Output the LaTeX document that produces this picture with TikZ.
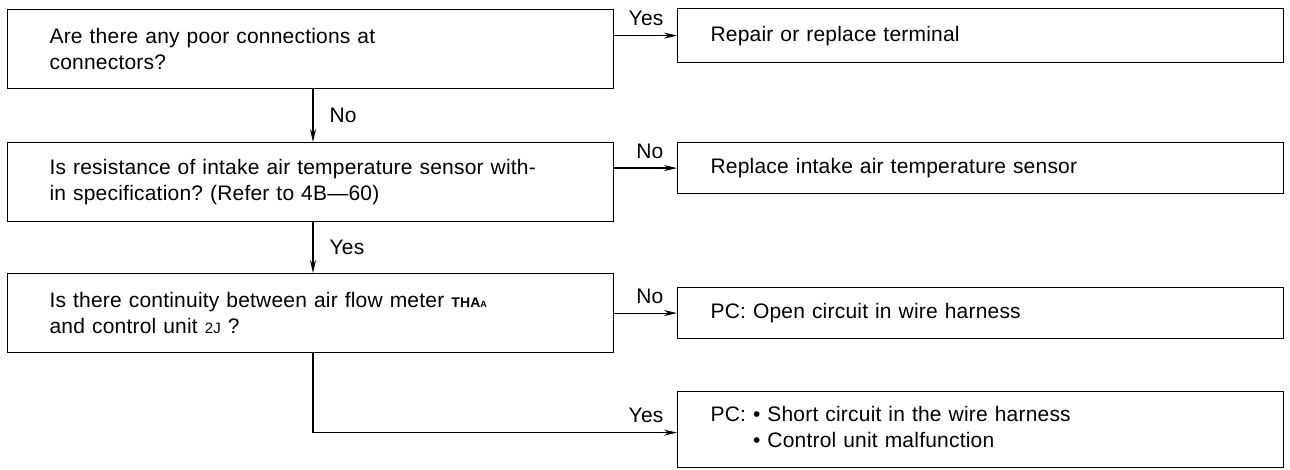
\documentclass[tikz,border=0pt]{standalone}
\usepackage{fontspec}
\setmainfont{Liberation Sans}[LetterSpace=1]
\usepackage{tikz}
\usetikzlibrary{positioning,arrows.meta}
\frenchspacing

\tikzset{
  qbox/.style={draw, line width=1.2pt, rectangle, anchor=north west, align=left,
    text width=522pt, inner xsep=42pt, inner ysep=0pt},
  abox/.style={draw, line width=1.2pt, rectangle, anchor=north west, align=left,
    text width=540pt, inner xsep=33pt, inner ysep=0pt},
  arr/.style={line width=1.2pt, -{Stealth[length=13pt,width=6pt]}},
  hlbl/.style={anchor=base east, inner sep=0pt, xshift=-13pt, yshift=10pt},
  vlbl/.style={anchor=west, inner sep=0pt, xshift=16pt}
}

\begin{document}
\begin{tikzpicture}[x=1pt,y=-1pt,font=\fontsize{21}{26}\selectfont]
	\useasboundingbox (0,0) rectangle (1290,470);
	\coordinate (spine) at (313,0);
	% questions
	\node[qbox, minimum height=79pt] (q1) at (7,9) {Are there any poor connections at\\connectors?};
	\node[qbox, minimum height=79pt] (q2) at (7,142) {Is resistance of intake air temperature sensor with-\\in specification? (Refer to 4B---60)};
	\node[qbox, minimum height=79pt] (q3) at (7,273) {Is there continuity between air flow meter {\fontsize{14}{14}\selectfont\bfseries THA{\fontsize{9}{9}\selectfont A}}\\and control unit {\fontsize{15}{15}\selectfont 2J} ?};
	% answers
	\node[abox, minimum height=54pt] (a1) at (677,8) {Repair or replace terminal};
	\node[abox, minimum height=51pt] (a2) at (677,142) {Replace intake air temperature sensor};
	\node[abox, minimum height=51pt] (a3) at (677,287) {PC: Open circuit in wire harness};
	\node[abox, minimum height=76pt] (a4) at (677,391) {\begin{tabular}{@{}l@{ }l@{}}PC: & \textbullet{} Short circuit in the wire harness\\ & \textbullet{} Control unit malfunction\end{tabular}};
	% connectors
	\draw[arr] (q1.east |- a1.west) -- (a1.west) node[hlbl] {Yes};
	\draw[arr] (q2.east |- a2.west) -- (a2.west) node[hlbl] {No};
	\draw[arr] (q3.east |- a3.west) -- (a3.west) node[hlbl] {No};
	\draw[arr] (q1.south -| spine) -- (q2.north -| spine) node[vlbl, midway] {No};
	\draw[arr] (q2.south -| spine) -- (q3.north -| spine) node[vlbl, midway] {Yes};
	\draw[arr] (q3.south -| spine) |- ([yshift=-3pt]a4.west) node[hlbl] {Yes};
\end{tikzpicture}
\end{document}
